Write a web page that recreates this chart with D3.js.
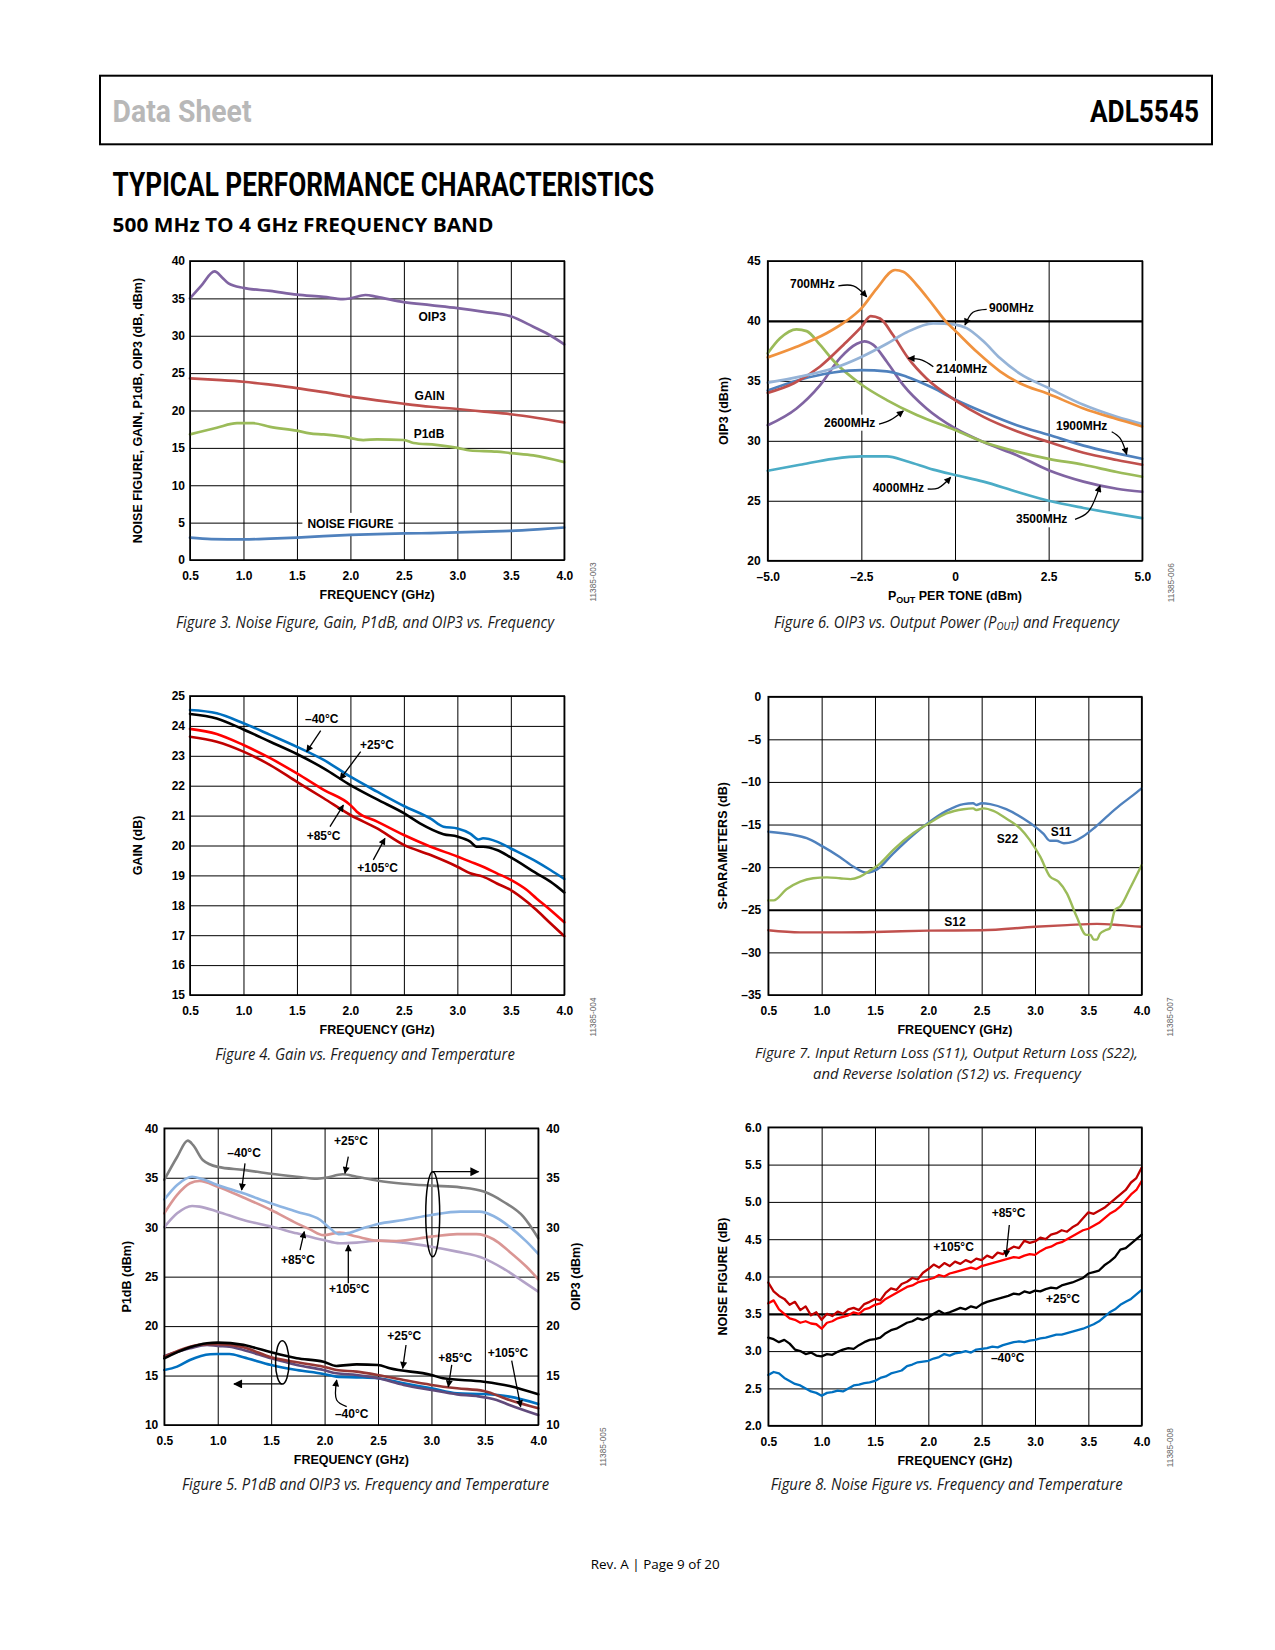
<!DOCTYPE html>
<html><head><meta charset="utf-8">
<script src="https://cdn.jsdelivr.net/npm/d3@7"></script>
<style>body{margin:0;background:#fff}svg{display:block}</style>
</head><body>
<script>
// ---------------- DATA ----------------
const freqTicks = [0.5,1.0,1.5,2.0,2.5,3.0,3.5,4.0];
const freqLabels = ['0.5','1.0','1.5','2.0','2.5','3.0','3.5','4.0'];

// Figure 3
const fig3YTicks = [0,5,10,15,20,25,30,35,40];
const fig3YLabels = ['0','5','10','15','20','25','30','35','40'];
const fig3OIP3 = [[0.50,35.0],[0.60,36.6],[0.73,38.6],[0.80,37.8],[0.86,37.0],[1.00,36.4],[1.25,36.0],[1.50,35.5],[1.75,35.2],[1.93,34.9],[2.00,35.0],[2.14,35.45],[2.25,35.2],[2.50,34.5],[2.75,34.1],[3.00,33.7],[3.25,33.2],[3.50,32.6],[3.71,31.2],[3.85,30.2],[4.00,28.85]];
const fig3Gain = [[0.5,24.3],[0.75,24.1],[1.0,23.85],[1.25,23.45],[1.5,23.0],[1.75,22.45],[2.0,21.85],[2.25,21.35],[2.5,20.9],[2.75,20.5],[3.0,20.2],[3.25,19.85],[3.5,19.5],[3.75,19.0],[4.0,18.4]];
const fig3P1dB = [[0.5,16.8],[0.75,17.7],[0.94,18.3],[1.09,18.3],[1.25,17.8],[1.5,17.3],[1.62,16.95],[1.75,16.8],[1.93,16.5],[2.12,16.05],[2.25,16.15],[2.5,16.05],[2.59,15.65],[2.8,15.4],[3.0,15.0],[3.12,14.65],[3.37,14.5],[3.5,14.3],[3.71,14.0],[4.0,13.1]];
const fig3NF = [[0.5,3.0],[0.7,2.8],[1.0,2.75],[1.25,2.85],[1.5,3.0],[1.75,3.2],[2.0,3.35],[2.25,3.45],[2.5,3.55],[2.75,3.6],[3.0,3.7],[3.25,3.8],[3.5,3.9],[3.75,4.1],[4.0,4.35]];

// Figure 6
const fig6XTicks = [-5,-2.5,0,2.5,5];
const fig6XLabels = ['\u20135.0','\u20132.5','0','2.5','5.0'];
const fig6YTicks = [20,25,30,35,40,45];
const fig6YLabels = ['20','25','30','35','40','45'];
const fig6_700 = [[-5,36.96],[-4.23,37.85],[-3.43,38.97],[-2.9,40.0],[-2.5,41.05],[-2.09,42.7],[-1.6,44.25],[-1.38,44.1],[-1.02,43.0],[-0.58,41.3],[-0.23,39.9],[0,39.2],[0.59,37.4],[1.2,35.8],[1.73,34.8],[2.5,33.9],[3.43,32.7],[4.23,31.9],[5,31.2]];
const fig6_900 = [[-5,34.85],[-4.14,35.35],[-3.25,36.05],[-2.5,37.0],[-1.82,38.1],[-1.29,39.05],[-0.58,39.8],[0,39.7],[0.31,39.4],[0.76,38.3],[1.2,36.9],[1.73,35.6],[2.5,34.4],[3.43,33.0],[4.32,32.0],[5,31.4]];
const fig6_2140 = [[-5,34.0],[-4.3,34.8],[-3.6,36.2],[-2.98,38.0],[-2.5,39.5],[-2.25,40.4],[-2.0,40.2],[-1.65,38.8],[-1.25,36.9],[-0.76,35.2],[0,33.4],[0.76,32.0],[1.65,30.8],[2.5,29.9],[3.43,29.0],[4.32,28.4],[5,28.0]];
const fig6_1900 = [[-5,34.2],[-4.14,35.1],[-3.25,35.7],[-2.5,35.9],[-1.82,35.8],[-1.29,35.35],[-0.58,34.4],[0,33.45],[0.76,32.4],[1.65,31.3],[2.5,30.5],[3.43,29.6],[4.32,28.95],[5,28.5]];
const fig6_2600 = [[-5,37.3],[-4.67,38.55],[-4.23,39.3],[-3.96,39.15],[-3.6,38.0],[-3.25,36.7],[-2.5,34.7],[-1.82,33.4],[-1.02,32.15],[0,30.9],[0.76,29.9],[1.65,29.1],[2.5,28.5],[3.43,28.0],[4.32,27.4],[5,27.0]];
const fig6_3500 = [[-5,31.3],[-4.23,32.7],[-3.6,34.65],[-3.07,36.9],[-2.62,38.1],[-2.42,38.3],[-2.18,38.0],[-1.82,36.6],[-1.38,34.65],[-0.76,32.7],[0,31.05],[0.76,29.9],[1.65,28.8],[2.5,27.55],[3.43,26.6],[4.32,26.0],[5,25.75]];
const fig6_4000 = [[-5,27.5],[-4.14,28.0],[-3.25,28.5],[-2.5,28.7],[-1.82,28.7],[-1.29,28.3],[-0.58,27.6],[0,27.15],[0.76,26.6],[1.65,25.75],[2.5,25.0],[3.43,24.4],[4.32,23.9],[5,23.55]];

// Figure 4
const fig4YTicks = [15,16,17,18,19,20,21,22,23,24,25];
const fig4YLabels = ['15','16','17','18','19','20','21','22','23','24','25'];
const fig4M40 = [[0.5,24.53],[0.75,24.42],[1.0,24.09],[1.25,23.7],[1.5,23.3],[1.75,22.86],[2.0,22.3],[2.25,21.8],[2.5,21.32],[2.75,20.9],[2.87,20.63],[3.0,20.57],[3.12,20.4],[3.2,20.2],[3.24,20.24],[3.37,20.13],[3.5,19.9],[3.74,19.46],[3.87,19.18],[4.0,18.88]];
const fig4P25 = [[0.5,24.4],[0.75,24.25],[1.0,23.88],[1.25,23.47],[1.5,23.06],[1.75,22.58],[2.0,22.02],[2.25,21.54],[2.5,21.08],[2.65,20.74],[2.87,20.38],[3.0,20.3],[3.12,20.13],[3.18,19.96],[3.24,19.96],[3.37,19.85],[3.5,19.6],[3.74,19.07],[3.87,18.79],[4.0,18.43]];
const fig4P85 = [[0.5,23.9],[0.75,23.73],[1.0,23.36],[1.25,22.92],[1.5,22.41],[1.75,21.86],[2.0,21.35],[2.06,21.13],[2.25,20.8],[2.5,20.35],[2.75,19.96],[3.0,19.63],[3.12,19.46],[3.24,19.29],[3.37,19.07],[3.5,18.85],[3.65,18.51],[3.74,18.23],[3.87,17.84],[4.0,17.43]];
const fig4P105 = [[0.5,23.64],[0.75,23.47],[1.0,23.14],[1.25,22.69],[1.5,22.13],[1.75,21.58],[2.0,21.02],[2.25,20.57],[2.5,20.02],[2.75,19.68],[3.0,19.29],[3.12,19.07],[3.24,18.96],[3.37,18.73],[3.5,18.51],[3.65,18.12],[3.74,17.84],[3.87,17.4],[4.0,16.97]];

// Figure 7
const fig7YTicks = [-35,-30,-25,-20,-15,-10,-5,0];
const fig7YLabels = ['\u201335','\u201330','\u201325','\u201320','\u201315','\u201310','\u20135','0'];
const fig7S11 = [[0.5,-15.84],[0.73,-16.2],[0.86,-16.6],[1.0,-17.5],[1.17,-18.8],[1.3,-19.95],[1.42,-20.65],[1.52,-20.26],[1.67,-18.4],[1.86,-16.2],[2.0,-14.8],[2.17,-13.4],[2.33,-12.6],[2.42,-12.5],[2.45,-12.7],[2.5,-12.5],[2.58,-12.6],[2.73,-13.2],[2.89,-14.3],[3.0,-15.25],[3.08,-16.1],[3.14,-16.9],[3.2,-16.9],[3.27,-17.2],[3.36,-17.0],[3.45,-16.4],[3.55,-15.45],[3.67,-14.1],[3.8,-12.7],[3.92,-11.55],[4.0,-10.75]];
const fig7S22 = [[0.5,-23.9],[0.55,-23.9],[0.67,-22.6],[0.8,-21.7],[0.92,-21.3],[1.05,-21.2],[1.17,-21.3],[1.27,-21.4],[1.36,-21.1],[1.44,-20.5],[1.55,-19.55],[1.67,-18.0],[1.86,-16.0],[2.0,-14.9],[2.17,-13.7],[2.33,-13.2],[2.42,-13.1],[2.45,-13.3],[2.52,-13.1],[2.61,-13.4],[2.73,-14.3],[2.86,-15.45],[2.95,-16.8],[3.05,-18.8],[3.14,-21.1],[3.22,-21.7],[3.3,-23.1],[3.39,-25.8],[3.48,-27.95],[3.52,-27.95],[3.55,-28.5],[3.58,-28.5],[3.61,-27.8],[3.66,-27.4],[3.7,-27.2],[3.75,-25.0],[3.8,-24.6],[3.89,-22.5],[4.0,-19.75]];
const fig7S12 = [[0.5,-27.4],[0.8,-27.65],[1.11,-27.65],[1.5,-27.6],[2.0,-27.45],[2.5,-27.4],[3.0,-27.0],[3.3,-26.8],[3.58,-26.65],[3.8,-26.8],[4.0,-27.0]];

// Figure 5
const fig5YTicks = [10,15,20,25,30,35,40];
const fig5YLabels = ['10','15','20','25','30','35','40'];
const fig5OIP3_25 = [[0.5,34.78],[0.62,37.1],[0.72,38.75],[0.77,38.3],[0.86,36.8],[1.0,36.1],[1.24,35.8],[1.5,35.4],[1.74,35.1],[1.93,34.9],[2.01,35.0],[2.17,35.35],[2.3,35.1],[2.5,34.7],[2.74,34.4],[3.0,34.2],[3.27,34.03],[3.49,33.6],[3.67,32.6],[3.86,31.07],[4.0,28.88]];
const fig5OIP3_m40 = [[0.5,32.8],[0.62,34.27],[0.76,35.1],[0.86,34.84],[1.0,34.27],[1.24,33.43],[1.5,32.4],[1.74,31.57],[1.96,30.73],[2.05,29.9],[2.13,29.3],[2.22,29.4],[2.36,29.9],[2.5,30.33],[2.74,30.73],[3.0,31.24],[3.27,31.57],[3.45,31.57],[3.58,31.13],[3.73,30.06],[3.89,28.54],[4.0,27.3]];
const fig5OIP3_85 = [[0.5,31.4],[0.62,33.26],[0.74,34.44],[0.83,34.67],[1.0,34.1],[1.24,33.0],[1.5,31.74],[1.74,30.39],[1.86,29.8],[1.99,29.2],[2.14,29.45],[2.3,29.05],[2.5,28.64],[2.67,28.6],[3.0,29.05],[3.24,29.3],[3.42,29.3],[3.58,28.78],[3.73,27.53],[3.89,26.0],[4.0,24.73]];
const fig5OIP3_105 = [[0.5,30.0],[0.62,31.4],[0.76,32.15],[0.83,32.08],[1.0,31.57],[1.24,30.73],[1.5,30.06],[1.74,29.38],[1.99,28.7],[2.14,28.37],[2.3,28.44],[2.5,28.64],[2.74,28.44],[3.0,28.03],[3.24,27.53],[3.49,26.85],[3.67,25.84],[3.86,24.5],[4.0,23.49]];
const fig5P1dB_25 = [[0.5,16.74],[0.74,17.85],[0.9,18.26],[1.0,18.33],[1.24,18.1],[1.33,17.86],[1.5,17.35],[1.74,16.74],[1.99,16.4],[2.11,15.97],[2.3,16.13],[2.5,16.07],[2.61,15.73],[3.0,15.06],[3.11,14.72],[3.49,14.38],[3.73,13.95],[4.0,13.1]];
const fig5P1dB_85 = [[0.5,16.9],[0.74,17.92],[0.9,18.16],[1.0,18.16],[1.24,17.86],[1.5,16.85],[1.74,16.34],[1.99,15.9],[2.11,15.56],[2.3,15.4],[2.5,15.06],[2.74,14.55],[3.0,14.05],[3.24,13.71],[3.49,13.44],[3.73,12.53],[4.0,11.69]];
const fig5P1dB_105 = [[0.5,16.98],[0.74,17.75],[0.9,18.1],[1.0,17.99],[1.11,17.92],[1.24,17.59],[1.5,16.74],[1.74,16.07],[1.99,15.56],[2.11,15.23],[2.3,15.06],[2.5,14.72],[2.74,14.05],[3.0,13.54],[3.24,13.1],[3.42,12.93],[3.61,12.53],[3.73,12.03],[4.0,11.01]];
const fig5P1dB_m40 = [[0.5,15.56],[0.62,15.9],[0.74,16.57],[0.93,17.15],[1.0,17.18],[1.11,17.18],[1.24,16.85],[1.5,16.07],[1.74,15.56],[1.99,15.16],[2.11,14.89],[2.3,14.82],[2.5,14.72],[2.74,14.22],[3.0,13.71],[3.24,13.2],[3.49,13.13],[3.73,12.87],[4.0,12.13]];

// Figure 8
const fig8YTicks = [2.0,2.5,3.0,3.5,4.0,4.5,5.0,5.5,6.0];
const fig8YLabels = ['2.0','2.5','3.0','3.5','4.0','4.5','5.0','5.5','6.0'];
const fig8Freq = [0.50,0.55,0.60,0.65,0.70,0.75,0.80,0.85,0.90,0.95,1.00,1.05,1.10,1.15,1.20,1.25,1.30,1.35,1.40,1.45,1.50,1.55,1.60,1.65,1.70,1.75,1.80,1.85,1.90,1.95,2.00,2.05,2.10,2.15,2.20,2.25,2.30,2.35,2.40,2.45,2.50,2.55,2.60,2.65,2.70,2.75,2.80,2.85,2.90,2.95,3.00,3.05,3.10,3.15,3.20,3.25,3.30,3.35,3.40,3.45,3.50,3.55,3.60,3.65,3.70,3.75,3.80,3.85,3.90,3.95,4.00];
const fig8NF105 = [3.92,3.80,3.74,3.70,3.62,3.66,3.55,3.60,3.48,3.52,3.42,3.50,3.47,3.53,3.50,3.56,3.58,3.55,3.63,3.66,3.70,3.68,3.78,3.84,3.82,3.90,3.93,3.98,3.96,4.05,4.10,4.16,4.12,4.18,4.14,4.20,4.17,4.22,4.19,4.24,4.22,4.28,4.25,4.32,4.30,4.36,4.40,4.38,4.48,4.45,4.47,4.52,4.50,4.56,4.58,4.62,4.60,4.66,4.70,4.78,4.86,4.84,4.88,4.92,4.98,5.04,5.10,5.16,5.26,5.32,5.46];
const fig8NF85 = [3.64,3.68,3.56,3.50,3.44,3.42,3.38,3.40,3.37,3.36,3.30,3.38,3.40,3.44,3.46,3.48,3.52,3.50,3.56,3.58,3.62,3.64,3.70,3.74,3.78,3.82,3.86,3.88,3.92,3.94,3.96,3.98,4.02,4.00,4.04,4.06,4.08,4.10,4.12,4.10,4.14,4.16,4.18,4.20,4.22,4.24,4.26,4.25,4.28,4.30,4.29,4.34,4.38,4.40,4.44,4.46,4.50,4.54,4.58,4.62,4.64,4.68,4.72,4.78,4.84,4.88,4.94,5.02,5.10,5.16,5.28];
const fig8NF25 = [3.18,3.16,3.12,3.15,3.10,3.02,3.00,2.96,2.98,2.94,2.93,2.96,2.95,2.99,3.02,3.04,3.03,3.08,3.12,3.15,3.16,3.18,3.24,3.28,3.30,3.34,3.38,3.40,3.44,3.42,3.45,3.50,3.54,3.50,3.52,3.55,3.58,3.56,3.60,3.58,3.63,3.66,3.68,3.70,3.72,3.74,3.77,3.76,3.80,3.78,3.81,3.80,3.83,3.85,3.84,3.88,3.90,3.92,3.95,3.98,4.04,4.06,4.08,4.15,4.20,4.26,4.36,4.38,4.44,4.50,4.56];
const fig8NFm40 = [2.68,2.72,2.70,2.64,2.60,2.56,2.54,2.50,2.46,2.44,2.40,2.44,2.45,2.47,2.46,2.50,2.54,2.55,2.57,2.58,2.60,2.64,2.66,2.70,2.72,2.74,2.80,2.82,2.85,2.86,2.87,2.90,2.92,2.96,2.94,2.97,2.98,3.00,2.98,3.02,3.03,3.04,3.06,3.05,3.08,3.10,3.12,3.13,3.12,3.14,3.15,3.17,3.18,3.20,3.22,3.22,3.24,3.26,3.28,3.30,3.33,3.36,3.40,3.46,3.52,3.56,3.62,3.66,3.70,3.76,3.82];

// ---------------- DRAWING ----------------
const FONT = '"Liberation Sans", Arial, Helvetica, sans-serif';
const CAPF = '"Open Sans", "Noto Sans", sans-serif';
const COND = '"Liberation Sans Narrow", "Roboto", "Liberation Sans", sans-serif';

const svg = d3.select('body').append('svg').attr('width',1275).attr('height',1650);
const defs = svg.append('defs');
function marker(id,w,h){
  defs.append('marker').attr('id',id).attr('viewBox','0 0 10 10').attr('refX',9).attr('refY',5)
    .attr('markerWidth',w).attr('markerHeight',h).attr('markerUnits','userSpaceOnUse').attr('orient','auto')
    .append('path').attr('d','M0,0L10,5L0,10Z').attr('fill','#000');
}
marker('ah',9,7); marker('ahBig',14,9);

function fitText(sel, targetW, anchorX){
  const w = sel.node().getBBox().width;
  if(w>0){ const s = targetW/w; sel.attr('transform',`translate(${anchorX},0) scale(${s},1) translate(${-anchorX},0)`); }
}

// header
svg.append('rect').attr('x',100).attr('y',75.7).attr('width',1112).attr('height',68.6).attr('fill','none').attr('stroke','#000').attr('stroke-width',2);
let t = svg.append('text').attr('x',112.6).attr('y',122).attr('font-family',COND).attr('font-weight','bold').attr('font-size',31).attr('fill','#b8b8b8').text('Data Sheet');
fitText(t,139,112.6);
t = svg.append('text').attr('x',1090).attr('y',122).attr('font-family',COND).attr('font-weight','bold').attr('font-size',32).attr('fill','#000').text('ADL5545');
fitText(t,109,1090);
t = svg.append('text').attr('x',112.6).attr('y',196.5).attr('font-family',COND).attr('font-weight','bold').attr('font-size',33).attr('fill','#000').text('TYPICAL PERFORMANCE CHARACTERISTICS');
fitText(t,542,112.6);
t = svg.append('text').attr('x',112.6).attr('y',232).attr('font-family',CAPF).attr('font-weight','bold').attr('font-size',19.5).attr('fill','#000').text('500 MHz TO 4 GHz FREQUENCY BAND');
fitText(t,381,112.6);
t = svg.append('text').attr('x',590.7).attr('y',1569).attr('font-family',CAPF).attr('font-size',13.5).attr('fill','#000').text('Rev. A | Page 9 of 20');
fitText(t,129.3,590.7);

function chart(o){
  const g = svg.append('g');
  const x = d3.scaleLinear().domain(o.xDomain).range([o.left,o.left+o.w]);
  const y = d3.scaleLinear().domain(o.yDomain).range([o.top+o.h,o.top]);
  const grid = g.append('g');
  const ax = grid.append('g').attr('transform',`translate(0,${o.top+o.h})`)
    .call(d3.axisBottom(x).tickValues(o.xTicks).tickFormat((d,i)=>o.xLabels[i]).tickSize(-o.h).tickPadding(11.5));
  const ay = grid.append('g').attr('transform',`translate(${o.left},0)`)
    .call(d3.axisLeft(y).tickValues(o.yTicks).tickFormat((d,i)=>o.yLabels[i]).tickSize(-o.w).tickPadding(o.yPad||6));
  const axes=[ax,ay];
  if(o.rightLabels){
    axes.push(grid.append('g').attr('transform',`translate(${o.left+o.w},0)`)
      .call(d3.axisRight(y).tickValues(o.yTicks).tickFormat((d,i)=>o.rightLabels[i]).tickSize(0).tickPadding(8)));
  }
  axes.forEach(a=>{
    a.select('.domain').remove();
    a.selectAll('.tick line').attr('stroke','#000').attr('stroke-width',1);
    a.selectAll('.tick text').attr('font-size',12).attr('font-weight','bold').attr('fill','#000').attr('font-family',FONT);
  });
  if(o.thickY) ay.selectAll('.tick line').filter(d=>o.thickY.includes(d)).attr('stroke-width',2.2);
  const bg = g.append('g');
  const cur = g.append('g');
  g.append('rect').attr('x',o.left).attr('y',o.top).attr('width',o.w).attr('height',o.h)
    .attr('fill','none').attr('stroke','#000').attr('stroke-width',1.6);
  const an = g.append('g');
  const xt = an.append('text').attr('x',o.left+o.w/2).attr('y',o.top+o.h+39).attr('text-anchor','middle')
    .attr('font-family',FONT).attr('font-weight','bold').attr('font-size',12.5);
  if(o.xTitleParts){ o.xTitleParts(xt); } else xt.text('FREQUENCY (GHz)');
  an.append('text').attr('transform',`translate(${o.left+o.yTitleDx},${o.top+o.h/2}) rotate(-90)`)
    .attr('text-anchor','middle').attr('dominant-baseline','central')
    .attr('font-family',FONT).attr('font-weight','bold').attr('font-size',12.5).text(o.yTitle);
  if(o.rightTitle){
    an.append('text').attr('transform',`translate(${o.left+o.w+o.rightTitleDx},${o.top+o.h/2}) rotate(-90)`)
      .attr('text-anchor','middle').attr('dominant-baseline','central')
      .attr('font-family',FONT).attr('font-weight','bold').attr('font-size',12.5).text(o.rightTitle);
  }
  an.append('text').attr('transform',`translate(${o.left+o.w+o.codeDx},${o.top+o.h+22}) rotate(-90)`)
    .attr('text-anchor','middle').attr('dominant-baseline','central')
    .attr('font-family',FONT).attr('font-size',8.3).attr('fill','#666').text(o.code);
  o.captions.forEach(c=>{
    const ct = an.append('text').attr('x',c.cx).attr('y',c.y).attr('text-anchor','middle')
      .attr('font-family',CAPF).attr('font-style','italic').attr('font-size',c.fs||16).attr('fill','#1a1a1a');
    if(c.parts){ c.parts(ct); } else ct.text(c.text);
    fitText(ct,c.w,c.cx);
  });
  return {x,y,g,bg,cur,an};
}
function series(c,data,color,w,curve){
  c.cur.append('path').datum(data)
    .attr('d',d3.line().x(d=>c.x(d[0])).y(d=>c.y(d[1])).curve(curve||d3.curveMonotoneX))
    .attr('fill','none').attr('stroke',color).attr('stroke-width',w||2.6)
    .attr('stroke-linejoin','round').attr('stroke-linecap','round');
}
function label(c,txt,xv,yv,opt){
  opt=opt||{};
  const tt=c.an.append('text').attr('x',c.x(xv)).attr('y',c.y(yv)).attr('text-anchor',opt.anchor||'start')
    .attr('font-size',12).attr('font-weight','bold').attr('font-family',FONT).attr('fill','#000').text(txt);
  if(opt.bg){
    const b=tt.node().getBBox(); const px=opt.px||2, py=opt.py||1;
    c.bg.append('rect').attr('x',b.x-px).attr('y',b.y-py).attr('width',b.width+2*px).attr('height',b.height+2*py).attr('fill','#fff');
  }
}
function arrow(c,pts,m){
  c.an.append('path').datum(pts)
    .attr('d',d3.line().x(d=>c.x(d[0])).y(d=>c.y(d[1])).curve(d3.curveCatmullRom))
    .attr('fill','none').attr('stroke','#000').attr('stroke-width',1.3).attr('marker-end',`url(#${m||'ah'})`);
}

// ---- Figure 3
const c3 = chart({left:190,top:261,w:374.3,h:299,xDomain:[0.5,4],yDomain:[0,40],xTicks:freqTicks,xLabels:freqLabels,
  yTicks:fig3YTicks,yLabels:fig3YLabels,yPad:5,yTitle:'NOISE FIGURE, GAIN, P1dB, OIP3 (dB, dBm)',yTitleDx:-52,code:'11385-003',codeDx:29,
  captions:[{cx:365,y:628.3,w:380,text:'Figure 3. Noise Figure, Gain, P1dB, and OIP3 vs. Frequency'}]});
series(c3,fig3OIP3,'#8064a2',2.7);
series(c3,fig3Gain,'#c0504d',2.7);
series(c3,fig3P1dB,'#9bbb59',2.7);
series(c3,fig3NF,'#4f81bd',2.7);
label(c3,'OIP3',2.765,32.0,{anchor:'middle'});
label(c3,'GAIN',2.74,21.4,{anchor:'middle'});
label(c3,'P1dB',2.735,16.3,{anchor:'middle'});
label(c3,'NOISE FIGURE',2.0,4.3,{anchor:'middle',bg:true,px:5,py:4});

// ---- Figure 6
const c6 = chart({left:767.7,top:261,w:374.6,h:299.7,xDomain:[-5,5],yDomain:[20,45],xTicks:fig6XTicks,xLabels:fig6XLabels,
  yTicks:fig6YTicks,yLabels:fig6YLabels,yPad:7,thickY:[40],yTitle:'OIP3 (dBm)',yTitleDx:-44,code:'11385-006',codeDx:28.5,
  xTitleParts:(s)=>{s.append('tspan').text('P');s.append('tspan').attr('font-size',9).attr('dy',3).text('OUT');s.append('tspan').attr('dy',-3).text(' PER TONE (dBm)');},
  captions:[{cx:946.5,y:628,w:347,parts:(s)=>{s.append('tspan').text('Figure 6. OIP3 vs. Output Power (P');s.append('tspan').attr('font-size',10.5).attr('dy',2).text('OUT');s.append('tspan').attr('dy',-2).text(') and Frequency');}}]});
series(c6,fig6_4000,'#4bacc6',2.7);
series(c6,fig6_3500,'#8064a2',2.7);
series(c6,fig6_2600,'#9bbb59',2.7);
series(c6,fig6_1900,'#4f81bd',2.7);
series(c6,fig6_2140,'#c0504d',2.7);
series(c6,fig6_900,'#95b3d7',2.7);
series(c6,fig6_700,'#f0923e',2.7);
label(c6,'700MHz',-4.405,42.77,{bg:true});
arrow(c6,[[-3.115,42.93],[-2.715,42.93],[-2.357,42.02]]);
label(c6,'900MHz',0.908,40.72,{bg:true});
arrow(c6,[[0.846,40.97],[0.48,40.72],[0.267,39.66]]);
label(c6,'2140MHz',-0.507,35.68,{bg:true});
arrow(c6,[[-0.579,36.18],[-0.88,36.74],[-1.247,36.88]]);
label(c6,'2600MHz',-3.497,31.18,{bg:true});
arrow(c6,[[-2.029,31.4],[-1.73,31.73],[-1.38,32.49]]);
label(c6,'1900MHz',2.696,30.9,{bg:true});
arrow(c6,[[4.183,30.76],[4.405,30.23],[4.583,28.87]]);
label(c6,'4000MHz',-2.197,25.75,{bg:true});
arrow(c6,[[-0.729,25.98],[-0.45,26.06],[-0.115,26.96]]);
label(c6,'3500MHz',1.628,23.12,{bg:true});
arrow(c6,[[3.204,23.45],[3.55,24.06],[3.871,26.26]]);

// ---- Figure 4
const c4 = chart({left:190,top:696,w:374.3,h:299,xDomain:[0.5,4],yDomain:[15,25],xTicks:freqTicks,xLabels:freqLabels,
  yTicks:fig4YTicks,yLabels:fig4YLabels,yPad:5,yTitle:'GAIN (dB)',yTitleDx:-52,code:'11385-004',codeDx:29,
  captions:[{cx:365,y:1060,w:300,text:'Figure 4. Gain vs. Frequency and Temperature'}]});
series(c4,fig4P105,'#c00000',2.6);
series(c4,fig4P85,'#ff0000',2.6);
series(c4,fig4P25,'#000000',2.6);
series(c4,fig4M40,'#0070c0',2.6);
label(c4,'\u201340\u00b0C',1.575,24.09);
arrow(c4,[[1.722,23.84],[1.591,23.14]]);
label(c4,'+25\u00b0C',2.09,23.22);
arrow(c4,[[2.096,23.14],[1.903,22.21]]);
label(c4,'+85\u00b0C',1.591,20.18);
arrow(c4,[[1.809,20.63],[1.934,21.35]]);
label(c4,'+105\u00b0C',2.065,19.12);
arrow(c4,[[2.214,19.52],[2.323,20.24]]);

// ---- Figure 7
const c7 = chart({left:768.3,top:696.7,w:373.4,h:298.3,xDomain:[0.5,4],yDomain:[-35,0],xTicks:freqTicks,xLabels:freqLabels,
  yTicks:fig7YTicks,yLabels:fig7YLabels,yPad:7,thickY:[-25],yTitle:'S-PARAMETERS (dB)',yTitleDx:-45,code:'11385-007',codeDx:28.5,
  captions:[{cx:946.5,y:1058,w:383,fs:14,text:'Figure 7. Input Return Loss (S11), Output Return Loss (S22),'},
            {cx:947,y:1079,w:270,fs:14,text:'and Reverse Isolation (S12) vs. Frequency'}]});
series(c7,fig7S12,'#c0504d',2.4);
series(c7,fig7S11,'#4f81bd',2.4);
series(c7,fig7S22,'#9bbb59',2.4);
label(c7,'S11',3.147,-16.34);
label(c7,'S22',2.641,-17.13);
label(c7,'S12',2.15,-26.9);

// ---- Figure 5
const c5 = chart({left:164.3,top:1128.3,w:374,h:296.7,xDomain:[0.5,4],yDomain:[10,40],xTicks:freqTicks,xLabels:freqLabels,
  yTicks:fig5YTicks,yLabels:fig5YLabels,rightLabels:fig5YLabels,yPad:6,yTitle:'P1dB (dBm)',yTitleDx:-37.6,
  rightTitle:'OIP3 (dBm)',rightTitleDx:37.7,code:'11385-005',codeDx:65,
  captions:[{cx:365.5,y:1490,w:367.6,text:'Figure 5. P1dB and OIP3 vs. Frequency and Temperature'}]});
series(c5,fig5OIP3_105,'#b3a2c7',2.6);
series(c5,fig5OIP3_85,'#da9694',2.6);
series(c5,fig5OIP3_m40,'#8db4e2',2.6);
series(c5,fig5OIP3_25,'#808080',2.6);
series(c5,fig5P1dB_m40,'#0070c0',2.6);
series(c5,fig5P1dB_105,'#604a7b',2.6);
series(c5,fig5P1dB_85,'#953735',2.6);
series(c5,fig5P1dB_25,'#000000',2.6);
label(c5,'\u201340\u00b0C',1.09,37.13);
arrow(c5,[[1.255,36.46],[1.224,33.76]]);
label(c5,'+25\u00b0C',2.088,38.31);
arrow(c5,[[2.222,37.13],[2.191,35.45]]);
label(c5,'+85\u00b0C',1.592,26.28);
arrow(c5,[[1.77,27.69],[1.81,29.55]]);
label(c5,'+105\u00b0C',2.041,23.32);
arrow(c5,[[2.222,24.33],[2.222,28.2]]);
label(c5,'+25\u00b0C',2.587,18.59);
arrow(c5,[[2.762,18.09],[2.731,15.73]]);
label(c5,'+85\u00b0C',3.064,16.4);
arrow(c5,[[3.19,16.07],[3.158,13.87]]);
label(c5,'+105\u00b0C',3.526,16.85);
arrow(c5,[[3.751,16.5],[3.835,11.85]]);
label(c5,'\u201340\u00b0C',2.097,10.68);
arrow(c5,[[2.207,11.85],[2.113,12.53],[2.113,14.55]]);
c5.an.append('ellipse').attr('cx',c5.x(3.012)).attr('cy',c5.y(31.31)).attr('rx',7).attr('ry',42.5).attr('fill','none').attr('stroke','#000').attr('stroke-width',1.5);
arrow(c5,[[3.012,35.61],[3.44,35.61]],'ahBig');
c5.an.append('ellipse').attr('cx',c5.x(1.604)).attr('cy',c5.y(16.33)).attr('rx',6.7).attr('ry',21.7).attr('fill','none').attr('stroke','#000').attr('stroke-width',1.5);
arrow(c5,[[1.604,14.15],[1.152,14.15]],'ahBig');

// ---- Figure 8
const c8 = chart({left:768.3,top:1127.3,w:373.4,h:298.4,xDomain:[0.5,4],yDomain:[2,6],xTicks:freqTicks,xLabels:freqLabels,
  yTicks:fig8YTicks,yLabels:fig8YLabels,yPad:6.6,thickY:[3.5],yTitle:'NOISE FIGURE (dB)',yTitleDx:-45,code:'11385-008',codeDx:28.5,
  captions:[{cx:946.7,y:1490,w:352,text:'Figure 8. Noise Figure vs. Frequency and Temperature'}]});
const zip = (xs,ys)=>xs.map((v,i)=>[v,ys[i]]);
series(c8,zip(fig8Freq,fig8NFm40),'#0070c0',2.3,d3.curveLinear);
series(c8,zip(fig8Freq,fig8NF25),'#000000',2.3,d3.curveLinear);
series(c8,zip(fig8Freq,fig8NF85),'#ff0000',2.3,d3.curveLinear);
series(c8,zip(fig8Freq,fig8NF105),'#c00000',2.3,d3.curveLinear);
label(c8,'+85\u00b0C',2.594,4.794);
arrow(c8,[[2.759,4.69],[2.728,4.265]]);
label(c8,'+105\u00b0C',2.047,4.346);
label(c8,'+25\u00b0C',3.103,3.641);
label(c8,'\u201340\u00b0C',2.587,2.85);
</script>
</body></html>
